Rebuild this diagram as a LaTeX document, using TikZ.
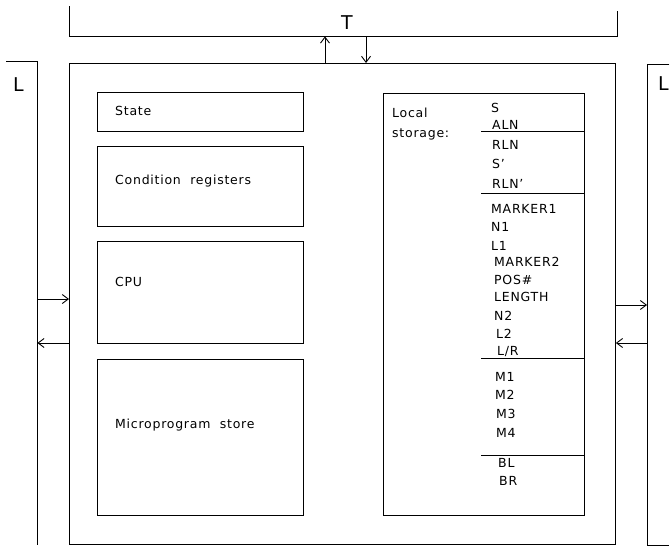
\documentclass[tikz,border=0pt]{standalone}
\usepackage{fontspec}
\setmainfont{DejaVu Sans}[LetterSpace=6]
\usetikzlibrary{arrows.meta}
\begin{document}
\begin{tikzpicture}[x=1pt,y=-1pt,
  box/.style={draw, line width=0.9pt, inner sep=0, anchor=north west},
  frame/.style={inner sep=0, anchor=north west},
  lbl/.style={inner sep=0, anchor=base west, font=\fontsize{12.5}{15}\selectfont},
  big/.style={inner sep=0, anchor=base west, font=\fontsize{19}{22}\selectfont},
  arr/.style={line width=0.9pt, -{Straight Barb[length=6pt,width=9pt]}},
  edge/.style={line width=0.9pt}]
\useasboundingbox (0,0) rectangle (670,546);
\fill[white] (0,0) rectangle (670,546);

% outer frames (open shapes)
\node[frame, minimum width=548, minimum height=30] (Tbox) at (69,6) {};
\draw[edge] (Tbox.north west) |- (Tbox.south east) -- ++(0,-25);
\node[big, anchor=base] (Tlbl) at (347,30) {T};

\node[frame, minimum width=31, minimum height=484] (Lleft) at (6,61) {};
\draw[edge] (Lleft.north west) -- (Lleft.north east) -- (Lleft.south east);
\node[big] (Llbl) at (13,91) {L};

\node[frame, minimum width=22, minimum height=481] (Lright) at (647,64) {};
\draw[edge] (Lright.north east) -- (Lright.north west) -- (Lright.south west) -- (Lright.south east);
\node[big] (Rlbl) at (658,90) {L};

% main box
\node[box, minimum width=546, minimum height=481] (main) at (69,63) {};

% inner boxes
\node[box, minimum width=206, minimum height=39] (state) at (97,92) {};
\node[lbl] (statet) at (115,115) {State};
\node[box, minimum width=206, minimum height=80] (cond) at (97,146) {};
\node[lbl] (condt) at (115,184) {Condition\ \ registers};
\node[box, minimum width=206, minimum height=102] (cpu) at (97,241) {};
\node[lbl] (cput) at (115,286) {CPU};
\node[box, minimum width=206, minimum height=156] (micro) at (97,359) {};
\node[lbl] (microt) at (115,428) {Microprogram\ \ store};

% local storage
\node[box, minimum width=201, minimum height=422] (ls) at (383,93) {};
\node[lbl] (lst1) at (392,117) {Local};
\node[lbl] (lst2) at (392,137) {storage:};

\coordinate (d1) at (481,131);
\coordinate (d2) at (481,193);
\coordinate (d3) at (481,358);
\coordinate (d4) at (481,455);
\foreach \d in {d1,d2,d3,d4} \draw[edge] (\d) -- (\d -| ls.east);

\node[lbl] (r1) at (491,112) {S};
\node[lbl] (r2) at (492,129) {ALN};
\node[lbl] (r3) at (492,149) {RLN};
\node[lbl] (r4) at (492,168) {S’};
\node[lbl] (r5) at (492,188) {RLN’};
\node[lbl] (r6) at (491,213) {MARKER1};
\node[lbl] (r7) at (491,231) {N1};
\node[lbl] (r8) at (491,250) {L1};
\node[lbl] (r9) at (494,266) {MARKER2};
\node[lbl] (r10) at (494,284) {POS\#};
\node[lbl] (r11) at (494,301) {LENGTH};
\node[lbl] (r12) at (494,320) {N2};
\node[lbl] (r13) at (496,338) {L2};
\node[lbl] (r14) at (497,355) {L/R};
\node[lbl] (r15) at (495,381) {M1};
\node[lbl] (r16) at (495,399) {M2};
\node[lbl] (r17) at (496,418) {M3};
\node[lbl] (r18) at (496,437) {M4};
\node[lbl] (r19) at (498,467) {BL};
\node[lbl] (r20) at (499,485) {BR};

% connectors
\coordinate (u1) at (325,0);
\coordinate (u2) at (366,0);
\draw[arr] (u1 |- main.north) -- (u1 |- Tbox.south);
\draw[arr] (u2 |- Tbox.south) -- (u2 |- main.north);

\coordinate (la1) at (0,299);
\coordinate (la2) at (0,343);
\draw[arr] (la1 -| Lleft.east) -- (la1 -| main.west);
\draw[arr] (la2 -| main.west) -- (la2 -| Lleft.east);

\coordinate (ra1) at (0,305);
\coordinate (ra2) at (0,343);
\draw[arr] (ra1 -| main.east) -- (ra1 -| Lright.west);
\draw[arr] (ra2 -| Lright.west) -- (ra2 -| main.east);
\end{tikzpicture}
\end{document}
